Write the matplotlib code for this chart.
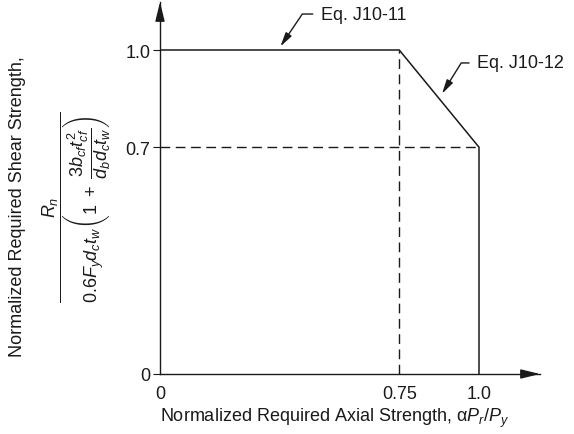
import matplotlib
matplotlib.use("Agg")
import matplotlib.pyplot as plt

plt.rcParams['font.family'] = ['Liberation Sans', 'DejaVu Sans']
plt.rcParams['mathtext.fontset'] = 'custom'
plt.rcParams['mathtext.rm'] = 'Liberation Sans'
plt.rcParams['mathtext.it'] = 'Liberation Sans:italic'
plt.rcParams['mathtext.bf'] = 'Liberation Sans:bold'

# data
curve_x = [0.0, 0.75, 1.0, 1.0]
curve_y = [1.0, 1.0, 0.7, 0.0]
vdash_x = [0.75, 0.75]
vdash_y = [0.0, 1.0]
hdash_x = [0.0, 1.0]
hdash_y = [0.7, 0.7]
xticks = [0, 0.75, 1.0]
xticklabels = ["0", "0.75", "1.0"]
yticks = [0, 0.7, 1.0]
yticklabels = ["0", "0.7", "1.0"]
ann1_text = "Eq. J10-11"
ann1_xy = (0.37, 1.0)
ann1_text_xy = (0.505, 1.111)
ann2_text = "Eq. J10-12"
ann2_xy = (0.877, 0.854)
ann2_text_xy = (0.995, 0.960)

W, H = 574, 435
fig = plt.figure(figsize=(W / 100, H / 100), dpi=100)
ax = fig.add_axes([160 / W, (H - 375) / H, 380 / W, 372 / H])
ax.set_xlim(0, 380 / 319)
ax.set_ylim(0, 372 / 324)

col = '#1a1a1a'
ax.plot(curve_x, curve_y, color=col, lw=1.1, solid_joinstyle='miter')
ax.plot(vdash_x, vdash_y, color=col, lw=1.0, dashes=(7, 4))
ax.plot(hdash_x, hdash_y, color=col, lw=1.0, dashes=(7, 4))

for s in ['top', 'right']:
    ax.spines[s].set_visible(False)
for s in ['left', 'bottom']:
    ax.spines[s].set_color(col)
    ax.spines[s].set_linewidth(1.0)

ax.set_xticks(xticks)
ax.set_xticklabels(xticklabels)
ax.set_yticks(yticks)
ax.set_yticklabels(yticklabels)
ax.tick_params(axis='x', which='major', length=0, pad=8, labelsize=13, colors=col)
ax.set_xticks([0], minor=True)
ax.tick_params(axis='x', which='minor', length=5, direction='out', color=col)
ax.tick_params(axis='y', length=5, direction='out', pad=2, labelsize=13, colors=col)

# axis arrows
ax.annotate('', xy=(1, 0), xytext=(0.96, 0), xycoords='axes fraction',
            arrowprops=dict(arrowstyle='-|>,head_length=0.9,head_width=0.22',
                            color=col, lw=1.0, shrinkA=0, shrinkB=0, mutation_scale=13))
ax.annotate('', xy=(0, 1), xytext=(0, 0.96), xycoords='axes fraction',
            arrowprops=dict(arrowstyle='-|>,head_length=0.9,head_width=0.22',
                            color=col, lw=1.0, shrinkA=0, shrinkB=0, mutation_scale=13))

# callouts
for txt, xy, xyt, angB in [(ann1_text, ann1_xy, ann1_text_xy, 56),
                           (ann2_text, ann2_xy, ann2_text_xy, 58)]:
    ax.annotate(txt, xy=xy, xytext=xyt, textcoords='data', ha='left', va='center',
                fontsize=13, color=col, annotation_clip=False,
                arrowprops=dict(arrowstyle='-|>,head_length=0.65,head_width=0.16',
                                connectionstyle='angle,angleA=0,angleB=%d,rad=0' % angB,
                                color=col, lw=1.0, shrinkA=4, shrinkB=3))

ax.set_xlabel('Normalized Required Axial Strength, \u03b1$P_r/P_y$', fontsize=13, color=col)
ax.xaxis.set_label_coords(0.46, -0.118)
ax.xaxis.label.set_va('center')

fig.text(18 / W, 1 - 207 / H, 'Normalized Required Shear Strength,', rotation=90,
         ha='center', va='center', fontsize=13, color=col)
fig.text(77 / W, 1 - 207 / H,
         r'$\dfrac{R_n}{0.6F_yd_ct_w\left(1\ +\ \dfrac{3b_{cf}t_{cf}^2}{d_bd_ct_w}\right)}$',
         rotation=90, ha='center', va='center', fontsize=13, color=col)

fig.savefig('out.png', dpi=100)
